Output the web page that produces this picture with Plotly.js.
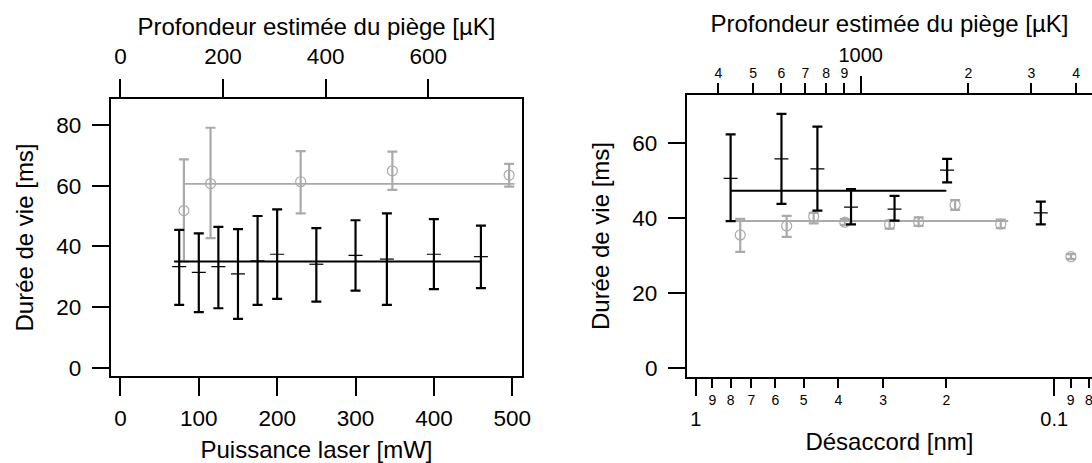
<!DOCTYPE html>
<html>
<head>
<meta charset="utf-8">
<script src="https://cdn.plot.ly/plotly-3.0.1.min.js"></script>
<style>html,body{margin:0;padding:0;background:#fff;}#chart{width:1092px;height:463px;}</style>
</head>
<body>
<div id="chart"></div>
<script>
// ---------- Left panel data: lifetime vs laser power ----------
var powerBlack = [75, 100, 125, 150, 175, 200, 250, 300, 340, 400, 460];
var meanBlack  = [33.3, 31.4, 33.3, 30.9, 35.2, 37.4, 34.1, 37.0, 35.8, 37.4, 36.6];
var lowBlack   = [20.7, 18.3, 19.6, 16.1, 20.7, 22.7, 21.8, 25.4, 20.7, 25.9, 26.2];
var highBlack  = [45.4, 44.3, 46.4, 45.7, 50.0, 52.2, 46.0, 48.6, 50.9, 49.0, 46.8];

var powerGrey = [81, 115, 230, 347, 496];
var meanGrey  = [51.8, 60.7, 61.3, 64.9, 63.5];
var lowGrey   = [35.0, 42.7, 50.9, 58.6, 59.7];
var highGrey  = [68.7, 79.1, 71.4, 71.2, 67.2];

var fitPowerBlack = [68.5, 461];
var fitLifeBlack  = [35.0, 35.0];
var fitPowerGrey  = [80, 503];
var fitLifeGrey   = [60.6, 60.6];

// ---------- Right panel data: lifetime vs detuning ----------
var detBlack   = [0.80, 0.577, 0.458, 0.369, 0.279, 0.199, 0.109];
var meanBlackR = [50.5, 55.7, 53.0, 42.8, 42.3, 52.7, 41.3];
var lowBlackR  = [39.1, 43.7, 41.9, 38.2, 39.2, 49.4, 38.2];
var highBlackR = [62.2, 67.7, 64.3, 47.6, 45.8, 55.7, 44.3];

var detGrey   = [0.752, 0.558, 0.469, 0.384, 0.288, 0.239, 0.189, 0.141, 0.0898];
var meanGreyR = [35.4, 37.8, 40.3, 38.8, 38.2, 38.9, 43.4, 38.3, 29.6];
var lowGreyR  = [30.9, 34.9, 38.5, 38.1, 37.1, 37.8, 42.1, 37.2, 29.0];
var highGreyR = [39.7, 40.5, 41.3, 39.6, 39.2, 40.1, 44.7, 39.5, 30.3];

var fitDetBlack  = [0.80, 0.200];
var fitLifeBlackR = [47.2, 47.2];
var fitDetGrey   = [0.80, 0.1344];
var fitLifeGreyR = [39.1, 39.1];

// ---------- Tick labels ----------
var powerTicks = [0, 100, 200, 300, 400, 500];
var depthTicksLin = [0, 200, 400, 600];
var lifeTicksL = [0, 20, 40, 60, 80];
var lifeTicksR = [0, 20, 40, 60];
var detMinorVals = [0.9, 0.8, 0.7, 0.6, 0.5, 0.4, 0.3, 0.2, 0.09, 0.08];
var detMinorText = ['9', '8', '7', '6', '5', '4', '3', '2', '9', '8'];
var detMajorVals = [1, 0.1];
var detMajorText = ['1', '0.1'];
var depthMinorVals = [400, 500, 600, 700, 800, 900, 2000, 3000, 4000];
var depthMinorText = ['4', '5', '6', '7', '8', '9', '2', '3', '4'];
var depthMajorVals = [1000];
var depthMajorText = ['1000'];

// ---------- Styles ----------
var FONT = 'Liberation Sans, Arial, Helvetica, sans-serif';
var BLACK = '#000000';
var GREY = '#aaaaaa';

function diff(a, b) { return a.map(function (v, i) { return v - b[i]; }); }

function dataTrace(x, mean, lo, hi, xa, ya, color, symbol) {
  return {
    x: x, y: mean, xaxis: xa, yaxis: ya, type: 'scatter', mode: 'markers',
    showlegend: false, hoverinfo: 'skip',
    marker: symbol === 'circle-open'
      ? {symbol: 'circle-open', size: 10, color: color, line: {width: 1.2, color: color}}
      : {symbol: 'line-ew', size: 10, color: color, line: {width: 1.2, color: color}},
    error_y: {type: 'data', symmetric: false, array: diff(hi, mean), arrayminus: diff(mean, lo),
              color: color, thickness: 2.2, width: 5}
  };
}
function fitTrace(x, y, xa, ya, color) {
  return {x: x, y: y, xaxis: xa, yaxis: ya, type: 'scatter', mode: 'lines',
          showlegend: false, hoverinfo: 'skip', line: {color: color, width: 1.9}};
}
// invisible carrier so that the overlaid secondary axes get drawn
function axisCarrier(xvals, xa, ya) {
  return {x: xvals, y: xvals.map(function () { return 0; }), xaxis: xa, yaxis: ya, type: 'scatter',
          mode: 'none', showlegend: false, hoverinfo: 'skip'};
}

var traces = [
  fitTrace(fitPowerGrey, fitLifeGrey, 'x', 'y', GREY),
  dataTrace(powerGrey, meanGrey, lowGrey, highGrey, 'x', 'y', GREY, 'circle-open'),
  fitTrace(fitPowerBlack, fitLifeBlack, 'x', 'y', BLACK),
  dataTrace(powerBlack, meanBlack, lowBlack, highBlack, 'x', 'y', BLACK, 'line-ew'),
  fitTrace(fitDetGrey, fitLifeGreyR, 'x3', 'y3', GREY),
  dataTrace(detGrey, meanGreyR, lowGreyR, highGreyR, 'x3', 'y3', GREY, 'circle-open'),
  fitTrace(fitDetBlack, fitLifeBlackR, 'x3', 'y3', BLACK),
  dataTrace(detBlack, meanBlackR, lowBlackR, highBlackR, 'x3', 'y3', BLACK, 'line-ew'),
  axisCarrier(depthTicksLin, 'x2', 'y'),
  axisCarrier(depthTicksLin, 'x7', 'y'),
  axisCarrier(detMajorVals, 'x4', 'y3'),
  axisCarrier(depthMinorVals, 'x5', 'y3'),
  axisCarrier(depthMajorVals, 'x6', 'y3'),
  axisCarrier(depthMajorVals, 'x8', 'y3')
];

var common = {showgrid: false, zeroline: false, ticks: 'outside', tickwidth: 2, tickcolor: BLACK,
              linecolor: BLACK, linewidth: 2, fixedrange: true, autorange: false,
              ticklabeloverflow: 'allow'};
function ax(o) { var r = {}; for (var k in common) r[k] = common[k]; for (var k2 in o) r[k2] = o[k2]; return r; }
var tickFont = {family: FONT, size: 22.5, color: BLACK};
var titleFont = {family: FONT, size: 24, color: BLACK};

var L = {x0: 110.7 / 1092, x1: 522.3 / 1092, y0: 1 - 376 / 463, y1: 1 - 99 / 463};
var R = {x0: 686.9 / 1092, x1: 1, y0: 1 - 376.7 / 463, y1: 1 - 95.3 / 463};

var layout = {
  width: 1092, height: 463, autosize: false,
  margin: {l: 0, r: 0, t: 0, b: 0, pad: 0},
  paper_bgcolor: '#ffffff', plot_bgcolor: 'rgba(0,0,0,0)',
  font: {family: FONT, color: BLACK},
  showlegend: false,
  // left panel
  xaxis: ax({domain: [L.x0, L.x1], anchor: 'y', range: [-12.4, 512.8], tickvals: powerTicks,
             ticklen: 18, showline: true, mirror: true, tickfont: tickFont, ticklabelstandoff: 3,
             title: {text: 'Puissance laser [mW]', font: titleFont, standoff: 12}}),
  xaxis2: ax({overlaying: 'x', anchor: 'y', side: 'top', range: [-18.9, 783.3], tickvals: depthTicksLin,
              ticklen: 19, showline: false, tickfont: tickFont, ticklabelstandoff: 6}),
  // title-only top axis of the left panel
  xaxis7: ax({overlaying: 'x', anchor: 'y', side: 'top', range: [-18.9, 783.3], ticks: '',
              showticklabels: false, showline: false,
              title: {text: 'Profondeur estimée du piège [µK]', font: titleFont, standoff: 55}}),
  yaxis: ax({domain: [L.y0, L.y1], anchor: 'x', range: [-2.74, 88.57], tickvals: lifeTicksL,
             ticklen: 17, showline: true, mirror: true, tickfont: tickFont, ticklabelstandoff: 6,
             title: {text: 'Durée de vie [ms]', font: titleFont, standoff: 15.5}}),
  // right panel
  xaxis3: ax({domain: [R.x0, R.x1], anchor: 'y3', type: 'log', range: [0.0251, -1.1055],
              tickvals: detMinorVals, ticktext: detMinorText, ticklen: 9, showline: true,
              tickfont: {family: FONT, size: 14, color: BLACK}, ticklabelstandoff: 0}),
  xaxis4: ax({overlaying: 'x3', anchor: 'y3', side: 'bottom', type: 'log', range: [0.0251, -1.1055],
              tickvals: detMajorVals, ticktext: detMajorText, ticklen: 18, showline: false,
              tickfont: {family: FONT, size: 20, color: BLACK}, ticklabelstandoff: 6,
              title: {text: 'Désaccord [nm]', font: titleFont, standoff: 4}}),
  xaxis5: ax({overlaying: 'x3', anchor: 'y3', side: 'top', type: 'log', range: [2.5141, 3.6466],
              tickvals: depthMinorVals, ticktext: depthMinorText, ticklen: 10, showline: true,
              tickfont: {family: FONT, size: 14, color: BLACK}, ticklabelstandoff: 0}),
  xaxis6: ax({overlaying: 'x3', anchor: 'y3', side: 'top', type: 'log', range: [2.5141, 3.6466],
              tickvals: depthMajorVals, ticktext: depthMajorText, ticklen: 18, showline: false,
              tickfont: {family: FONT, size: 20, color: BLACK}, ticklabelstandoff: 6}),
  // title-only top axis of the right panel
  xaxis8: ax({overlaying: 'x3', anchor: 'y3', side: 'top', type: 'log', range: [2.5141, 3.6466], ticks: '',
              showticklabels: false, showline: false,
              title: {text: 'Profondeur estimée du piège [µK]', font: titleFont, standoff: 54}}),
  yaxis3: ax({domain: [R.y0, R.y1], anchor: 'x3', range: [-2.4, 72.64], tickvals: lifeTicksR,
              ticklen: 17, showline: true, tickfont: tickFont, ticklabelstandoff: 6,
              title: {text: 'Durée de vie [ms]', font: titleFont, standoff: 16}})
};

Plotly.newPlot('chart', traces, layout, {staticPlot: true, displayModeBar: false});
</script>
</body>
</html>
